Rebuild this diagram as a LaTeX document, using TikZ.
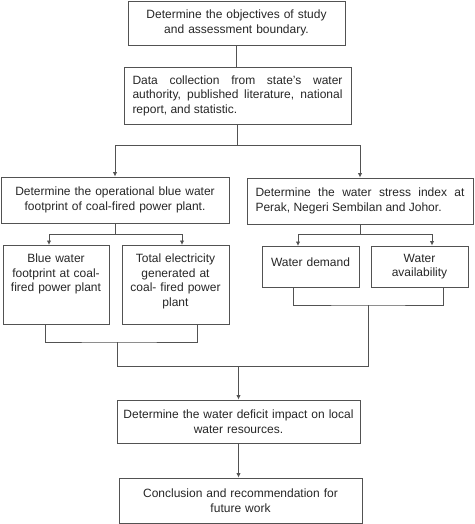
\documentclass[tikz,border=0pt]{standalone}
\usepackage{fontspec}
\setmainfont{Liberation Sans}
\usetikzlibrary{arrows.meta}
\tikzset{
  box/.style={draw=black!68, line width=0.9pt, text=black!85, font=\fontsize{12}{14.5}\selectfont, align=center, inner xsep=4pt, inner ysep=0pt},
  jbox/.style={box, align=justify, inner xsep=8.5pt},
  topbox/.style={box, anchor=north, inner ysep=4pt, text height=13.5pt},
  con/.style={draw=black!68, line width=0.9pt},
  arr/.style={con, -{Latex[length=4.5pt,width=4.5pt]}}
}
\begin{document}
\begin{tikzpicture}[x=1pt,y=-1pt]
\useasboundingbox (0,0) rectangle (474,524);
\node[box, text width=209pt, minimum height=44pt] (goal) at (236.5,23) {Determine the objectives of study\\and assessment boundary.};
\node[jbox, text width=210pt, minimum height=57pt] (data) at (237.5,95.5) {Data collection from state's water\linebreak authority, published literature, national\linebreak report, and statistic.};
\node[box, text width=220pt, minimum height=46pt] (bwf) at (115,200) {Determine the operational blue water\\footprint of coal-fired power plant.};
\node[jbox, text width=209pt, minimum height=46pt] (wsi) at (360,201) {Determine the water stress index at\linebreak Perak, Negeri Sembilan and Johor.};
\node[topbox, text width=98pt, text depth=57.5pt] (bwfa) at (56,245) {Blue water\\footprint at coal-\\fired power plant};
\node[topbox, text width=99pt, text depth=57.5pt] (elec) at (175.5,245) {Total electricity\\generated at\\coal- fired power\\plant};
\node[topbox, text width=89pt, text height=16pt, text depth=17pt] (demand) at (310.5,246) {Water demand};
\node[box, text width=89pt, minimum height=41pt] (avail) at (419.5,266.5) {Water\\availability};
\node[box, text width=235pt, minimum height=43pt] (deficit) at (238.5,421.5) {Determine the water deficit impact on local\\water resources.};
\node[box, text width=235pt, minimum height=45pt] (concl) at (240.5,500.5) {Conclusion and recommendation for\\future work};

\coordinate (split1) at (237.5,145);
\coordinate (split2) at (115,234);
\coordinate (split3) at (360,234);
\coordinate (join1) at (117,342);
\coordinate (join2) at (368,305);
\coordinate (merge) at (238.5,366);

\draw[con] (goal.south) -- (goal.south |- data.north);
\draw[con] (data.south) -- (split1);
\draw[arr] (split1) -| (bwf.north);
\draw[arr] (split1) -| (wsi.north);
\draw[con] (bwf.south) -- (split2);
\draw[arr] (split2) -| ([xshift=-7pt]bwfa.north);
\draw[arr] (split2) -| ([xshift=6.5pt]elec.north);
\draw[con] (wsi.south) -- (split3);
\draw[arr] (split3) -| ([xshift=-12.5pt]demand.north);
\draw[arr] (split3) -| ([xshift=12.5pt]avail.north);
\draw[con] ([xshift=-11pt]bwfa.south) |- (join1) -| ([xshift=21.5pt]elec.south);
\draw[con] ([xshift=-17.5pt]demand.south) |- (join2) -| ([xshift=23.5pt]avail.south);
\draw[con] (join1) |- (merge);
\draw[con] (join2) |- (merge);
\draw[arr] (merge) -- (deficit.north);
\draw[arr] (deficit.south) -- (deficit.south |- concl.north);
\end{tikzpicture}
\end{document}
